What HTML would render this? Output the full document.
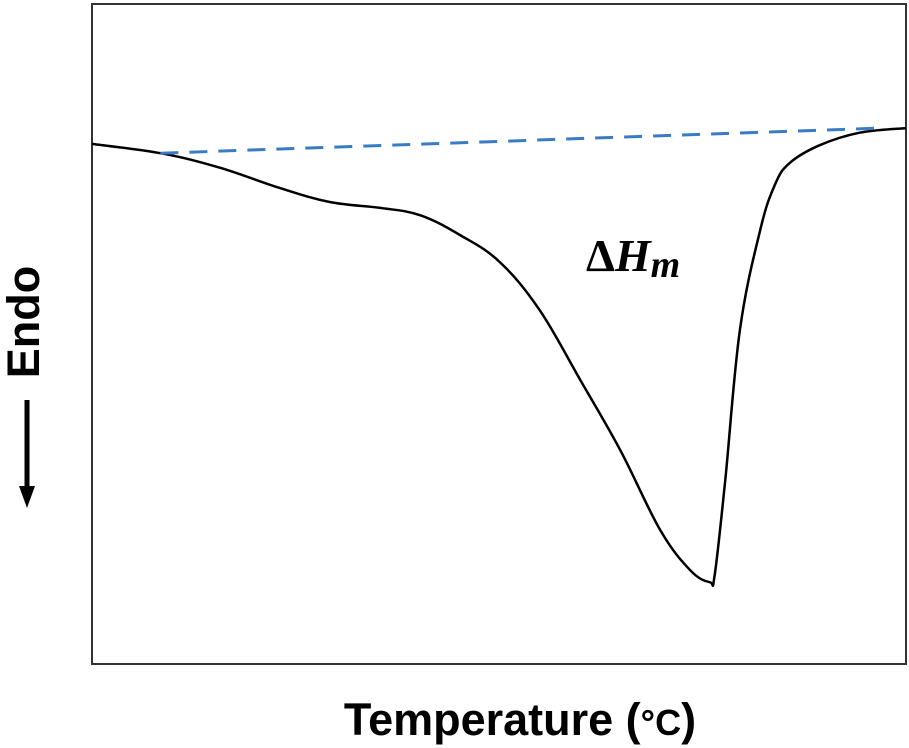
<!DOCTYPE html>
<html><head><meta charset="utf-8"><style>
body{margin:0;background:#fff;}
svg{display:block;}
</style></head><body>
<svg width="909" height="748" xmlns="http://www.w3.org/2000/svg">
<rect x="92" y="4" width="814" height="660" fill="none" stroke="#333" stroke-width="2"/>
<g id="series"></g>
<text x="586" y="271" font-family="Liberation Serif, serif" font-weight="bold" font-size="46">Δ<tspan font-style="italic">H</tspan><tspan font-style="italic" font-size="38" dy="6">m</tspan></text>
<text transform="translate(39,322) rotate(-90)" text-anchor="middle" font-family="Liberation Sans, sans-serif" font-weight="bold" font-size="45">Endo</text>
<g>
<line x1="27" y1="400" x2="27" y2="488" stroke="#000" stroke-width="5"/>
<polygon points="19,486 35,486 27,508" fill="#000"/>
</g>
<text x="520" y="735" text-anchor="middle" font-family="Liberation Sans, sans-serif" font-weight="bold" font-size="45">Temperature (<tspan font-size="36">°C</tspan>)</text>
</svg>
<script>
const curveX=[0,8.4,15.7,23.1,29.2,35.4,40.3,45.2,50.1,55.0,60.0,64.9,69.8,73.5,75.9,76.5,77.8,79.6,82.1,83.9,85.7,89.4,94.3,100];
const curveY=[78.8,77.4,75.2,72.1,70.0,69.1,68.0,65.0,60.9,53.6,43.0,32.4,20.3,14.2,12.4,13.5,27.9,50.6,65.8,72.6,75.9,78.6,80.5,81.2];
const baseX=[8.4,96.8];
const baseY=[77.4,81.2];
const xs=v=>92+v*8.14;
const ys=v=>664-v*6.6;
const NS='http://www.w3.org/2000/svg';
const g=document.getElementById('series');
function smooth(X,Y){
  const P=X.map((x,i)=>[xs(x),ys(Y[i])]);
  let d='M'+P[0][0].toFixed(1)+','+P[0][1].toFixed(1);
  for(let i=0;i<P.length-1;i++){
    const p0=P[i-1]||P[i],p1=P[i],p2=P[i+1],p3=P[i+2]||P[i+1];
    const t=0.18;
    const c1=[p1[0]+(p2[0]-p0[0])*t,p1[1]+(p2[1]-p0[1])*t];
    const c2=[p2[0]-(p3[0]-p1[0])*t,p2[1]-(p3[1]-p1[1])*t];
    d+='C'+c1.map(v=>v.toFixed(1)).join(',')+' '+c2.map(v=>v.toFixed(1)).join(',')+' '+p2[0].toFixed(1)+','+p2[1].toFixed(1);
  }
  return d;
}
function line(X,Y){let d='';X.forEach((x,i)=>{d+=(i?'L':'M')+xs(x).toFixed(1)+','+ys(Y[i]).toFixed(1);});return d;}
const c=document.createElementNS(NS,'path');
c.setAttribute('d',smooth(curveX,curveY));
c.setAttribute('fill','none');c.setAttribute('stroke','#000');c.setAttribute('stroke-width','2.5');c.setAttribute('stroke-linejoin','round');


g.appendChild(c);
const b=document.createElementNS(NS,'path');
b.setAttribute('d',line(baseX,baseY));
b.setAttribute('fill','none');b.setAttribute('stroke','#3a7cc4');b.setAttribute('stroke-width','3');b.setAttribute('stroke-dasharray','18,11');


g.appendChild(b);
</script>
</body></html>
